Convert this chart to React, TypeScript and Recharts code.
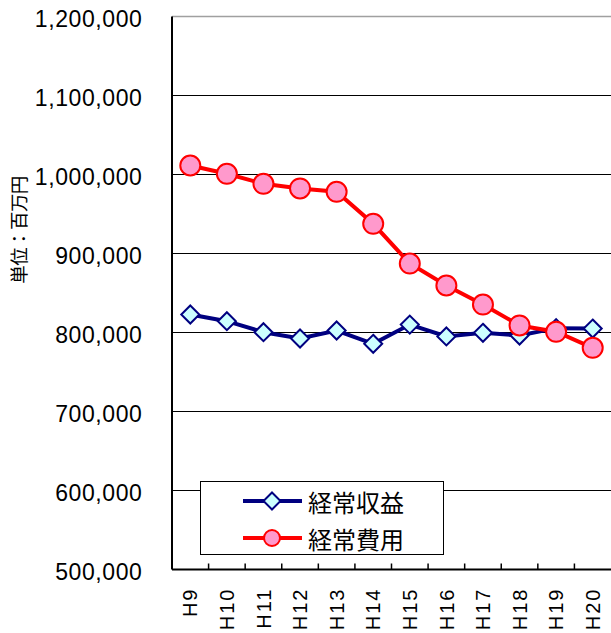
import React from 'react';
import { LineChart, Line, XAxis, YAxis, CartesianGrid, Legend, ReferenceLine } from 'recharts';

const categories = ['H9', 'H10', 'H11', 'H12', 'H13', 'H14', 'H15', 'H16', 'H17', 'H18', 'H19', 'H20'];
const revenue = [822800, 814300, 800400, 792400, 802500, 785700, 810000, 795000, 799600, 796200, 805500, 805000];
const expenses = [1011400, 1000900, 988200, 982300, 978100, 937600, 887300, 859500, 835400, 808900, 800900, 780600];
const yTicks = [500000, 600000, 700000, 800000, 900000, 1000000, 1100000, 1200000];
const revenueName = '経常収益';
const expensesName = '経常費用';
const yAxisTitle = '単位：百万円';

const data = categories.map((name, i) => ({ name, revenue: revenue[i], expenses: expenses[i] }));

const W = 611;
const H = 633;
const MARGIN = { top: 16.5, right: 0, bottom: 0, left: 0 };
const Y_AXIS_W = 172;
const X_AXIS_H = 63.5;
const BAND = (W - Y_AXIS_W - MARGIN.right - MARGIN.left) / categories.length;

const NUM_FONT = '"Liberation Sans", Arial, sans-serif';
const JP_FONT = '"Noto Sans CJK JP", "Noto Sans", sans-serif';

const BLUE = '#000080';
const DIAMOND_FILL = '#CCFFFF';
const RED = '#FF0000';
const CIRCLE_FILL = '#FF99CC';

const diamondPoints = (cx: number, cy: number, s: number) =>
  `${cx},${cy - s} ${cx + s},${cy} ${cx},${cy + s} ${cx - s},${cy}`;

const DiamondDot = (props: any) => {
  const { cx, cy, index } = props;
  if (cx == null || cy == null) return <g key={`d-${index}`} />;
  return (
    <polygon key={`d-${index}`} points={diamondPoints(cx, cy, 9)} fill={DIAMOND_FILL} stroke={BLUE} strokeWidth={2} />
  );
};

const CircleDot = (props: any) => {
  const { cx, cy, index } = props;
  if (cx == null || cy == null) return <g key={`c-${index}`} />;
  return <circle key={`c-${index}`} cx={cx} cy={cy} r={10} fill={CIRCLE_FILL} stroke={RED} strokeWidth={2} />;
};

const YTick = (props: any) => {
  const { x, y, payload } = props;
  return (
    <text x={x - 29.5} y={y} dy={10.5} textAnchor="end" fontFamily={NUM_FONT} fontSize={23} letterSpacing={0.6} fill="#000">
      {Number(payload.value).toLocaleString('en-US')}
    </text>
  );
};

const XTick = (props: any) => {
  const { x, y, payload, index } = props;
  return (
    <g>
      {index > 0 && <line x1={x - BAND / 2} x2={x - BAND / 2} y1={y - 6} y2={y} stroke="#000" strokeWidth={1.5} />}
      <text
        transform={`translate(${x},${y + 18}) rotate(-90)`}
        textAnchor="end"
        dy="0.36em"
        fontFamily={NUM_FONT}
        fontSize={20}
        letterSpacing={2}
        fill="#000"
      >
        {payload.value}
      </text>
    </g>
  );
};

const YLabel = (props: any) => {
  const vb = props.viewBox || { x: 0, y: 17, width: 172, height: 553 };
  const cx = vb.x + 18;
  const cy = vb.y + vb.height / 2 - 63;
  return (
    <text
      transform={`translate(${cx},${cy}) rotate(-90)`}
      textAnchor="middle"
      dominantBaseline="central"
      fontFamily={JP_FONT}
      fontSize={18.5}
      letterSpacing={-0.6}
      fill="#000"
    >
      {yAxisTitle}
    </text>
  );
};

const renderLegend = (props: any) => {
  const payload = props.payload || [];
  return (
    <div style={{ width: 244, height: 74, border: '1px solid #000', background: '#fff', boxSizing: 'border-box' }}>
      <svg width={242} height={72} style={{ display: 'block' }}>
        {payload.map((entry: any, i: number) => {
          const y = 19 + i * 37;
          const isRevenue = entry.dataKey === 'revenue';
          const color = isRevenue ? BLUE : RED;
          return (
            <g key={entry.value}>
              <line x1={42} x2={101} y1={y} y2={y} stroke={color} strokeWidth={4} />
              {isRevenue ? (
                <polygon points={diamondPoints(71, y, 8.5)} fill={DIAMOND_FILL} stroke={BLUE} strokeWidth={2} />
              ) : (
                <circle cx={71} cy={y} r={8} fill={CIRCLE_FILL} stroke={RED} strokeWidth={2} />
              )}
              <text x={107} y={y} dominantBaseline="central" fontFamily={JP_FONT} fontSize={24} fill="#000">
                {entry.value}
              </text>
            </g>
          );
        })}
      </svg>
    </div>
  );
};

export default function App() {
  return (
    <div style={{ position: 'absolute', left: 0, top: 0, width: W, height: H, background: '#fff' }}>
      <LineChart width={W} height={H} data={data} margin={MARGIN}>
        <CartesianGrid horizontal vertical={false} stroke="#000" strokeWidth={1} />
        <ReferenceLine y={1200000} stroke="#A0A0A0" strokeWidth={1.5} />
        <XAxis
          dataKey="name"
          scale="band"
          interval={0}
          height={X_AXIS_H}
          tickLine={false}
          tickSize={0}
          tickMargin={0}
          axisLine={{ stroke: '#000', strokeWidth: 2 }}
          tick={<XTick />}
        />
        <YAxis
          width={Y_AXIS_W}
          domain={[500000, 1200000]}
          ticks={yTicks}
          interval={0}
          allowDataOverflow
          tickLine={false}
          tickSize={0}
          tickMargin={0}
          axisLine={{ stroke: '#000', strokeWidth: 2 }}
          tick={<YTick />}
          label={<YLabel />}
        />
        <Legend
          layout="horizontal"
          verticalAlign="middle"
          align="center"
          content={renderLegend}
          wrapperStyle={{ position: 'absolute', left: 200, top: 481, width: 244, height: 74 }}
        />
        <Line
          type="linear"
          dataKey="revenue"
          name={revenueName}
          stroke={BLUE}
          strokeWidth={4}
          dot={<DiamondDot />}
          activeDot={false}
          isAnimationActive={false}
        />
        <Line
          type="linear"
          dataKey="expenses"
          name={expensesName}
          stroke={RED}
          strokeWidth={4}
          dot={<CircleDot />}
          activeDot={false}
          isAnimationActive={false}
        />
      </LineChart>
    </div>
  );
}
